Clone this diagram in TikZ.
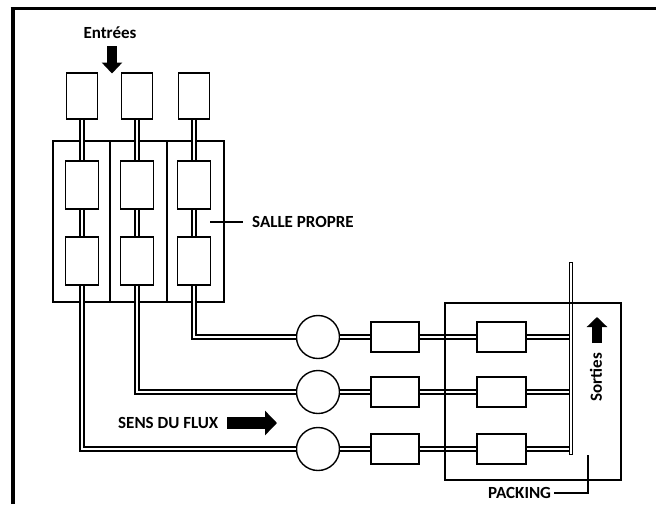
\documentclass[tikz,border=0pt]{standalone}
\usepackage{fontspec}
\setmainfont{Carlito}
\usetikzlibrary{arrows.meta,positioning,calc}

\begin{document}
\begin{tikzpicture}[x=1pt, y=-1pt,
    unit/.style={draw, line width=1.8pt, minimum width=32pt, minimum height=47pt, inner sep=0pt},
    conv/.style={draw, line width=1.8pt, minimum width=48pt, minimum height=30pt, inner sep=0pt},
    mixer/.style={draw, circle, line width=1.4pt, minimum size=43pt, inner sep=0pt},
    pipe/.style={double, line width=1.5pt, double distance=2.2pt},
    zone/.style={draw, line width=1.5pt},
    lbl/.style={font=\fontsize{17}{19}\selectfont\bfseries, inner sep=0pt},
    lead/.style={line width=1.3pt}]
\useasboundingbox (0,0) rectangle (656,504);
% cadre
\draw[line width=4pt] (12.5,504) -- (12.5,7);
\draw[line width=3pt] (10.5,8.5) -- (656,8.5);
% salle propre
\draw[zone] (53,141) rectangle (224,302);
\draw[zone] (110,141) -- (110,302) (167,141) -- (167,302);
\foreach \x [count=\i] in {82,137,194} {
    \node[unit, minimum width=31pt, minimum height=46pt] (top\i) at (\x,96) {};
    \node[unit, minimum width=33pt, minimum height=48pt] (mid\i) at (\x,185) {};
    \node[unit, minimum width=33pt, minimum height=48pt] (low\i) at (\x,261) {};
    \draw[pipe] (top\i) -- (mid\i);
    \draw[pipe] (mid\i) -- (low\i);
}
% lignes
\foreach \y [count=\j] in {337,392,449} {
    \node[mixer] (mix\j) at (318,\y) {};
    \node[conv] (conv\j) at (395,\y) {};
    \node[conv, minimum width=49pt] (pack\j) at (501.5,\y) {};
    \draw[pipe] (mix\j) -- (conv\j);
    \draw[pipe] (conv\j) -- (pack\j);
}
\foreach \i/\j in {3/1,2/2,1/3}
    \draw[pipe] (low\i.south) |- (mix\j.west);
% collecteur
\node[draw, line width=1.4pt, minimum width=3.4pt, minimum height=192pt, inner sep=0pt, anchor=north] (coll) at (571,262) {};
\foreach \j in {1,2,3}
    \draw[pipe] (pack\j.east) -- (coll.west |- pack\j.east);
\draw[zone] (445,303) rectangle (621,480);
% textes
\node[lbl] (entrees) at (110,33) {Entrées};
\draw[line width=10.5pt, -{Triangle[length=11pt, width=20pt]}] (112,46) -- (112,73.5);
\node[lbl, anchor=west] (salle) at (252,222) {SALLE PROPRE};
\draw[lead] (210,222) -- ($(salle.west)+(-9,0)$);
\node[lbl, anchor=west] (flux) at (118,423) {SENS DU FLUX};
\draw[line width=12pt, -{Triangle[length=12pt, width=24pt]}] (227,423) -- (277,423);
\node[lbl, rotate=90] (sorties) at (596,377) {Sorties};
\draw[line width=10pt, -{Triangle[length=10pt, width=20pt]}] (597,343) -- (597,317);
\node[lbl, anchor=west] (packing) at (488,493) {PACKING};
\draw[lead] ($(packing.east)+(3,0)$) -| (588,455);
\end{tikzpicture}
\end{document}
